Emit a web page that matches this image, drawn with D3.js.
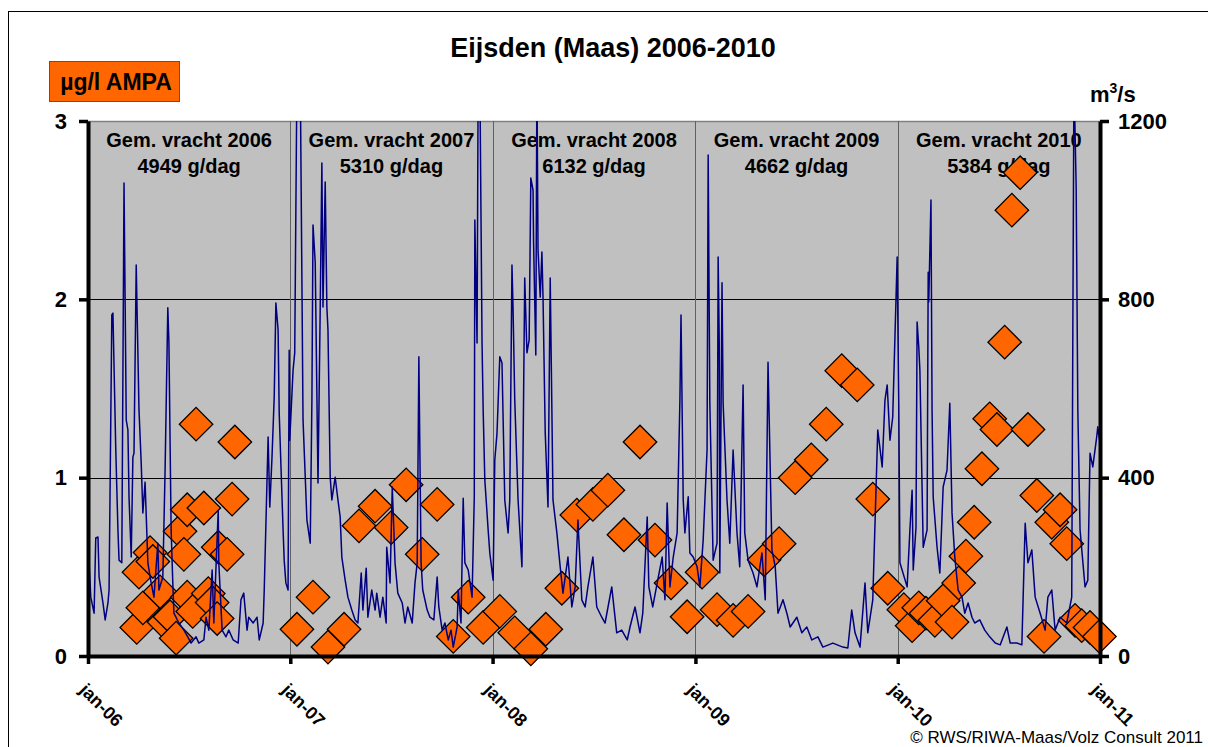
<!DOCTYPE html>
<html>
<head>
<meta charset="utf-8">
<script src="https://cdn.jsdelivr.net/npm/d3@7"></script>
<style>
body { margin: 0; background: #fff; }
svg { font-family: "Liberation Sans", Arial, sans-serif; }
</style>
</head>
<body>
<svg width="1208" height="747"></svg>
<script>
// x axis labels (one per 1 january)
const yearLabels = ["jan-06", "jan-07", "jan-08", "jan-09", "jan-10", "jan-11"];
const leftTicks = [0, 1, 2, 3];
const rightTicks = [0, 400, 800, 1200];

// gemiddelde vracht per jaar
const vrachtYears = [2006, 2007, 2008, 2009, 2010];
const vrachtGDag = [4949, 5310, 6132, 4662, 5384];

// AMPA samples, ug/l
const ampaDates = [
  "2006-03-30","2006-04-03","2006-04-10","2006-04-23","2006-04-28","2006-05-11","2006-05-18","2006-05-29",
  "2006-06-09","2006-06-16","2006-06-23","2006-06-29","2006-06-29","2006-07-09","2006-07-15","2006-07-29",
  "2006-08-06","2006-08-13","2006-08-22","2006-08-24","2006-09-09","2006-09-18","2006-09-23",
  "2007-01-13","2007-02-11","2007-03-10","2007-04-08","2007-05-05","2007-06-03","2007-07-02","2007-07-29",
  "2007-08-27","2007-09-23","2007-10-22","2007-11-18","2007-12-15",
  "2008-01-14","2008-02-10","2008-03-10","2008-04-06","2008-05-05","2008-06-01","2008-06-30","2008-07-27",
  "2008-08-25","2008-09-23","2008-10-20","2008-11-18","2008-12-17",
  "2009-01-13","2009-02-09","2009-03-10","2009-04-06","2009-05-05","2009-06-01","2009-06-30","2009-07-29",
  "2009-08-25","2009-09-22","2009-10-20","2009-11-17","2009-12-14",
  "2010-01-12","2010-01-27","2010-02-08","2010-02-21","2010-03-09","2010-03-24","2010-04-09","2010-04-21",
  "2010-05-04","2010-05-19","2010-06-02","2010-06-16","2010-06-29","2010-07-13","2010-07-26","2010-08-10",
  "2010-08-24","2010-09-09","2010-09-22","2010-10-06","2010-10-21","2010-11-02","2010-11-17","2010-11-29",
  "2010-12-14","2010-12-31"
];
const ampaValues = [
  0.16, 0.47, 0.27, 0.58, 0.53, 0.36, 0.19, 0.22,
  0.10, 0.70, 0.57, 0.82, 0.33, 0.25, 1.30, 0.83,
  0.35, 0.30, 0.21, 0.61, 0.57, 0.88, 1.20,
  0.15, 0.33, 0.05, 0.15, 0.73, 0.84, 0.72, 0.96,
  0.57, 0.85, 0.11, 0.33, 0.16,
  0.25, 0.13, 0.04, 0.15, 0.38, 0.79, 0.85, 0.93,
  0.68, 1.20, 0.65, 0.41, 0.22,
  0.47, 0.26, 0.20, 0.25, 0.54, 0.63, 1.00, 1.10,
  1.30, 1.60, 1.52, 0.88, 0.38,
  0.26, 0.17, 0.27, 0.24, 0.20, 0.31, 0.19, 0.41,
  0.56, 0.75, 1.05, 1.33, 1.27, 1.76, 2.50, 2.71,
  1.27, 0.90, 0.11, 0.75, 0.82, 0.63, 0.20, 0.17,
  0.16, 0.11
];

// afvoer Maas, days after 1 jan 2006 and m3/s
const flowDays = [
  0,2,5,11,14,18,20,27,31,36,38,43,45,50,54,56,61,65,69,72,74,78,81,83,87,92,96,99,103,108,
  114,119,126,128,135,139,144,146,150,153,155,164,173,180,186,195,200,209,213,218,224,227,235,236,242,249,254,262,271,276,
  281,287,290,298,305,309,316,318,325,328,332,336,339,343,345,352,354,357,361,363,
  364,370,373,377,383,388,395,401,404,406,410,415,419,422,424,428,431,433,437,440,
  446,451,455,458,464,469,476,482,487,493,496,502,505,512,518,521,527,532,538,539,
  545,549,554,559,567,572,577,585,590,594,597,601,604,612,617,624,630,633,639,644,
  650,655,659,666,668,673,677,680,686,693,697,698,702,704,707,711,713,716,722,725,
  731,734,738,743,747,752,758,761,765,767,770,776,783,788,792,796,799,803,804,808,810,812,816,819,821,825,
  830,834,837,839,846,852,857,866,873,879,884,891,897,902,911,918,927,933,945,954,963,973,978,987,996,1001,
  1009,1012,1019,1028,1036,1041,1045,1050,1056,1063,1068,1070,1074,1077,1083,1086,1092,1099,1104,1110,
  1117,1119,1122,
  1128,1135,1137,1139,1140,1144,1146,1153,1158,1164,1171,1176,1182,1185,1191,1200,1207,1216,1222,1227,
  1234,1240,1245,1254,1261,1267,1279,1288,1297,1306,1317,1326,1344,1362,1371,1378,1384,1393,1402,1407,
  1416,1425,1433,1438,1442,1447,1452,1460,
  1463,1465,1478,1483,1487,1489,1494,1496,1499,1501,1507,1514,1516,1517,1521,1523,1525,1532,1537,1543,
  1550,1555,1559,1564,1570,1577,1582,1588,1595,1600,1609,1618,1627,1637,1646,1658,1664,1676,1685,1691,
  1696,1703,1709,1718,1727,1732,1739,1745,1754,1766,1775,1777,1779,1783,1786,1790,1799,1804,1808,1813,
  1820,1822,1826
];
const flowM3s = [
  260,209,132,96,265,267,177,119,81,119,148,765,769,469,283,215,209,1061,529,507,357,222,446,455,877,552,433,321,390,209,
  164,132,253,148,177,410,781,702,283,164,96,74,58,43,29,43,29,36,87,58,193,74,327,209,58,43,58,36,29,126,
  141,58,87,74,87,36,74,148,491,334,446,581,792,731,545,283,215,164,148,686,
  484,641,680,1300,1300,529,305,253,574,967,882,388,781,1106,783,1063,783,731,401,350,
  401,350,312,222,170,132,103,81,74,186,103,197,87,148,103,141,87,132,74,244,
  164,379,209,141,119,74,110,74,164,209,671,209,148,103,87,81,177,110,58,74,
  36,58,20,65,148,74,354,209,193,132,357,978,702,1300,1300,702,552,395,283,231,
  170,440,500,671,657,350,276,350,877,776,574,350,200,848,680,709,1072,1045,926,675,1300,911,805,906,805,500,
  334,848,552,350,276,200,141,222,110,155,305,126,110,155,222,110,87,74,155,52,58,36,65,110,52,96,
  312,155,110,170,222,126,343,155,222,276,574,765,350,276,357,231,222,200,155,260,
  462,1124,567,
  215,253,895,702,186,837,567,350,253,462,276,200,608,276,215,186,155,231,126,659,
  238,200,96,126,96,65,87,52,65,36,43,20,29,20,18,103,52,20,164,52,
  126,507,424,574,608,484,536,895,
  552,209,155,283,372,193,289,749,693,641,244,283,861,794,1023,552,357,244,186,379,
  417,567,321,222,148,132,96,119,87,74,81,58,43,29,25,65,29,29,25,298,
  209,238,132,96,58,132,148,58,87,74,132,731,1300,1052,552,283,155,170,455,424,
  491,514,478
];

var margin = {top: 121, right: 108, bottom: 91, left: 88},
    width = 1208 - margin.left - margin.right,
    height = 747 - margin.top - margin.bottom;

var parse = d3.timeParse("%Y-%m-%d");
var start = new Date(2006, 0, 1);
var yearDates = yearLabels.map((d, i) => new Date(2006 + i, 0, 1));

var x = d3.scaleTime()
    .domain([start, new Date(2011, 0, 1)])
    .range([0, width]);
var y = d3.scaleLinear().domain([0, 3]).range([height, 0]);
var y2 = d3.scaleLinear().domain([0, 1200]).range([height, 0]);

var svg = d3.select("svg");

// outer frame of the chart object (runs off the page right and bottom)
svg.append("rect")
    .attr("x", 8.5).attr("y", 11.5)
    .attr("width", 1300).attr("height", 800)
    .attr("fill", "none").attr("stroke", "#000").attr("stroke-width", 1);

svg.append("text")
    .attr("x", 613).attr("y", 57)
    .attr("text-anchor", "middle")
    .attr("font-size", 27).attr("font-weight", "bold")
    .text("Eijsden (Maas) 2006-2010");

var g = svg.append("g").attr("transform", "translate(" + margin.left + "," + margin.top + ")");

g.append("defs").append("clipPath")
    .attr("id", "clip")
    .append("rect")
    .attr("width", width)
    .attr("height", height);

g.append("rect")
    .attr("width", width).attr("height", height)
    .attr("fill", "#c0c0c0");

// top border of plot area
g.append("line")
    .attr("x1", 0).attr("x2", width).attr("y1", 0.5).attr("y2", 0.5)
    .attr("stroke", "#808080").attr("stroke-width", 1.5);

// horizontal gridlines
g.selectAll("line.hgrid")
    .data(leftTicks.slice(1, -1))
    .enter().append("line")
    .attr("class", "hgrid")
    .attr("x1", 0).attr("x2", width)
    .attr("y1", d => Math.round(y(d)) + 0.5).attr("y2", d => Math.round(y(d)) + 0.5)
    .attr("stroke", "#000").attr("stroke-width", 1);

// vertical gridlines at each year
g.selectAll("line.vgrid")
    .data(yearDates.slice(1, -1))
    .enter().append("line")
    .attr("class", "vgrid")
    .attr("x1", d => Math.round(x(d)) + 0.5).attr("x2", d => Math.round(x(d)) + 0.5)
    .attr("y1", 0).attr("y2", height)
    .attr("stroke", "#606060").attr("stroke-width", 1);

// year annotations
vrachtYears.forEach((yr, i) => {
    let cx = (x(new Date(yr, 0, 1)) + x(new Date(yr + 1, 0, 1))) / 2;
    let t = g.append("text")
        .attr("text-anchor", "middle")
        .attr("font-size", 20).attr("font-weight", "bold");
    t.append("tspan").attr("x", cx).attr("y", 26).text("Gem. vracht " + yr);
    t.append("tspan").attr("x", cx).attr("y", 52).text(vrachtGDag[i] + " g/dag");
});

// AMPA diamonds
var ampa = ampaDates.map((d, i) => ({date: parse(d), value: ampaValues[i]}));
g.selectAll("path.ampa")
    .data(ampa)
    .enter().append("path")
    .attr("class", "ampa")
    .attr("d", d3.symbol().type(d3.symbolSquare).size(560))
    .attr("transform", d => "translate(" + x(d.date) + "," + y(d.value) + ") rotate(45)")
    .attr("fill", "#ff6600")
    .attr("stroke", "#000")
    .attr("stroke-width", 1.3);

// flow line on the right axis
var flow = flowDays.map((d, i) => ({date: d3.timeDay.offset(start, d), value: flowM3s[i]}));
var line = d3.line()
    .x(d => x(d.date))
    .y(d => y2(d.value));
g.append("g")
    .attr("clip-path", "url(#clip)")
    .append("path")
    .datum(flow)
    .attr("d", line)
    .attr("fill", "none")
    .attr("stroke", "#000080")
    .attr("stroke-width", 1.5)
    .attr("stroke-linejoin", "round");

// axes
var xAxis = g.append("g")
    .attr("class", "axis axis--x")
    .attr("transform", "translate(0," + height + ")")
    .call(d3.axisBottom(x).tickValues(yearDates).tickFormat((d, i) => yearLabels[i]).tickSize(8).tickSizeOuter(0));
xAxis.selectAll("text")
    .attr("text-anchor", "start")
    .attr("dy", null)
    .attr("y", null)
    .attr("transform", "translate(-10,35) rotate(45)");

var yAxis = g.append("g")
    .attr("class", "axis axis--y")
    .call(d3.axisLeft(y).tickValues(leftTicks).tickFormat(d3.format("d")).tickSize(9).tickSizeOuter(0).tickPadding(12));

var y2Axis = g.append("g")
    .attr("class", "axis axis--y2")
    .attr("transform", "translate(" + width + ",0)")
    .call(d3.axisRight(y2).tickValues(rightTicks).tickFormat(d3.format("d")).tickSize(9).tickSizeOuter(0).tickPadding(9));

svg.selectAll(".axis path.domain").attr("stroke", "#000").attr("stroke-width", 4);
svg.selectAll(".axis .tick line").attr("stroke", "#000").attr("stroke-width", 3.5);
svg.selectAll(".axis text")
    .attr("font-family", "Liberation Sans, Arial, sans-serif")
    .attr("font-size", 22).attr("font-weight", "bold").attr("fill", "#000");
xAxis.selectAll("text").attr("font-size", 18);

// unit label left
var lg = svg.append("g").attr("transform", "translate(49,61)");
lg.append("rect")
    .attr("x", 0.5).attr("y", 0.5).attr("width", 130).attr("height", 40)
    .attr("fill", "#ff6600").attr("stroke", "#555").attr("stroke-width", 1);
lg.append("text")
    .attr("x", 67).attr("y", 29)
    .attr("text-anchor", "middle")
    .attr("font-size", 23).attr("font-weight", "bold")
    .text("µg/l AMPA");

// unit label right
var u = svg.append("text")
    .attr("x", 1090).attr("y", 102)
    .attr("font-size", 22).attr("font-weight", "bold");
u.append("tspan").text("m");
u.append("tspan").attr("dy", -9).attr("font-size", 14).text("3");
u.append("tspan").attr("dy", 9).text("/s");

svg.append("text")
    .attr("x", 1203).attr("y", 743)
    .attr("text-anchor", "end")
    .attr("font-size", 17)
    .text("© RWS/RIWA-Maas/Volz Consult 2011");
</script>
</body>
</html>
